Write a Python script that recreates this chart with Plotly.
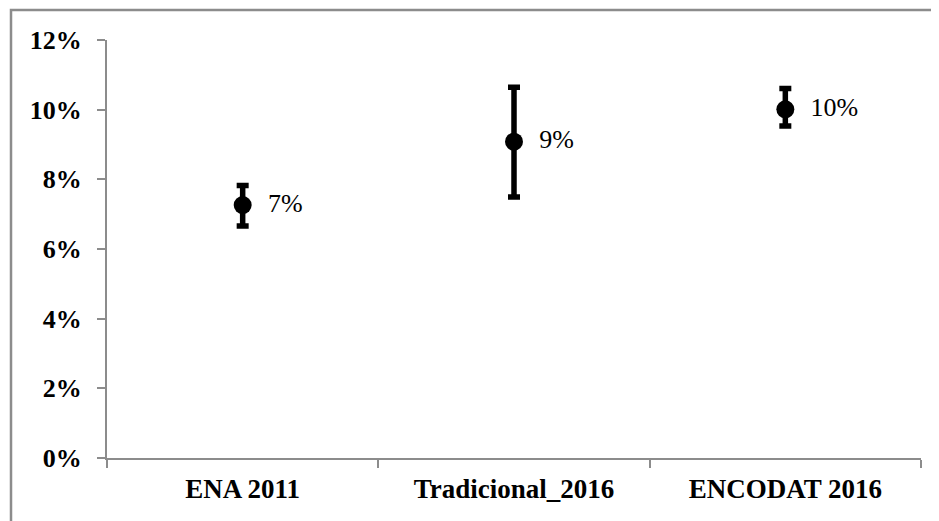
import plotly.graph_objects as go

categories = ["ENA 2011", "Tradicional_2016", "ENCODAT 2016"]
values = [7.26, 9.08, 10.01]
err_plus = [0.56, 1.56, 0.60]
err_minus = [0.60, 1.59, 0.48]
point_labels = ["7%", "9%", "10%"]
y_tickvals = [0, 2, 4, 6, 8, 10, 12]
y_ticktext = ["0%", "2%", "4%", "6%", "8%", "10%", "12%"]

SERIF = "'Liberation Serif', 'DejaVu Serif', 'Times New Roman', serif"
AXIS_GRAY = "#8c8c8c"

fig = go.Figure()
fig.add_trace(go.Scatter(
    x=categories, y=values,
    mode="markers+text",
    marker=dict(color="black", size=18, symbol="circle"),
    error_y=dict(type="data", symmetric=False, array=err_plus, arrayminus=err_minus,
                 color="black", thickness=5.5, width=6),
    text=["  " + t for t in point_labels],
    textposition="middle right",
    textfont=dict(family=SERIF, size=26, color="black"),
    cliponaxis=False,
    showlegend=False,
))

# page body has an 8px margin; compensate
OFF = 8
W, H = 939 - OFF, 521 - OFF
L, R, T, B = 107 - OFF, 18, 40 - OFF, 63
pw, ph = W - L - R, H - T - B

fig.update_layout(
    width=W, height=H,
    margin=dict(l=L, r=R, t=T, b=B),
    paper_bgcolor="white", plot_bgcolor="white",
    font=dict(family=SERIF, color="black"),
    xaxis=dict(
        type="category", range=[-0.5, 2.5],
        showline=True, linecolor=AXIS_GRAY, linewidth=2,
        ticks="outside", tickson="boundaries", ticklen=8, tickcolor=AXIS_GRAY, tickwidth=2,
        showgrid=False, zeroline=False,
        tickfont=dict(family=SERIF, size=27, color="black", weight="bold"),
        ticklabelstandoff=6,
    ),
    yaxis=dict(
        range=[0, 12], tickvals=y_tickvals, ticktext=y_ticktext,
        showline=True, linecolor=AXIS_GRAY, linewidth=2,
        ticks="outside", ticklen=8, tickcolor=AXIS_GRAY, tickwidth=2,
        showgrid=False, zeroline=False,
        tickfont=dict(family=SERIF, size=26, color="black", weight="bold"),
        ticklabelstandoff=10,
    ),
    shapes=[
        dict(type="rect", xref="paper", yref="paper",
             x0=(3 - L) / pw, x1=(W + 20 - L) / pw,
             y0=-(H + 20 - T - ph) / ph, y1=1 + (T - 2) / ph,
             line=dict(color=AXIS_GRAY, width=2.5), fillcolor="rgba(0,0,0,0)", layer="below"),
    ],
)

fig.write_html("out.html")
